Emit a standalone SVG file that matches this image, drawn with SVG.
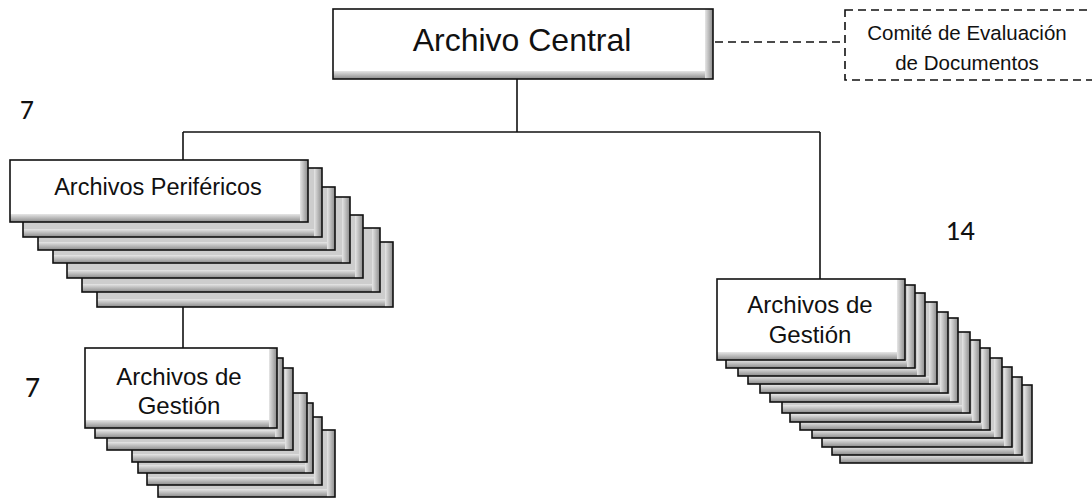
<svg xmlns="http://www.w3.org/2000/svg" width="1092" height="501" viewBox="0 0 1092 501">
<defs>
<linearGradient id="gb" x1="0" y1="0" x2="0" y2="1"><stop offset="0" stop-color="#e6e6e6"/><stop offset="0.45" stop-color="#bdbdbd"/><stop offset="1" stop-color="#8a8a8a"/></linearGradient>
<linearGradient id="gr" x1="0" y1="0" x2="1" y2="0"><stop offset="0" stop-color="#e6e6e6"/><stop offset="0.45" stop-color="#bdbdbd"/><stop offset="1" stop-color="#8a8a8a"/></linearGradient>
<style>
.bg{fill:#fff}
.bk{fill:#cdcdcd}
.bb{fill:url(#gb)}
.br{fill:url(#gr)}
.ed{fill:none;stroke:#111;stroke-width:1.6}
.ln{fill:none;stroke:#111;stroke-width:1.6}
.dash{fill:none;stroke:#111;stroke-width:1.6;stroke-dasharray:8 5}
.t{font-family:"Liberation Sans",Arial,sans-serif;fill:#111;text-anchor:middle}
.n{font-family:Lato,"Open Sans",sans-serif;fill:#111;font-weight:500}
</style>
</defs>
<rect width="1092" height="501" fill="#fff"/>

<g id="connectors">
<line class="ln" x1="517" y1="79" x2="517" y2="132"/>
<line class="ln" x1="183" y1="132" x2="820" y2="132"/>
<line class="ln" x1="183" y1="132" x2="183" y2="160"/>
<line class="ln" x1="820" y1="132" x2="820" y2="279"/>
<line class="ln" x1="183" y1="307" x2="183" y2="348"/>
<line class="dash" x1="715" y1="42" x2="845" y2="42"/>
</g>

<g id="archivo-central">
<rect class="bg" x="333" y="9" width="380" height="70"/>
<rect class="bb" x="333" y="71" width="380" height="8"/>
<rect class="br" x="705" y="9" width="8" height="70"/>
<rect class="ed" x="333" y="9" width="380" height="70"/>
<text class="t" x="522" y="51" font-size="32">Archivo Central</text>
</g>

<g id="comite">
<rect class="dash" x="845" y="10" width="252" height="70"/>
<text class="t" x="967" y="40" font-size="20.5">Comité de Evaluación</text>
<text class="t" x="967" y="70" font-size="20.5">de Documentos</text>
</g>

<g id="archivos-perifericos">
<rect class="bk" x="97" y="242" width="296" height="65"/><rect class="bb" x="97" y="299" width="296" height="8"/><rect class="br" x="385" y="242" width="8" height="65"/><rect class="ed" x="97" y="242" width="296" height="65"/>
<rect class="bk" x="82" y="228" width="298" height="64"/><rect class="bb" x="82" y="284" width="298" height="8"/><rect class="br" x="372" y="228" width="8" height="64"/><rect class="ed" x="82" y="228" width="298" height="64"/>
<rect class="bk" x="67" y="215" width="296" height="63"/><rect class="bb" x="67" y="270" width="296" height="8"/><rect class="br" x="355" y="215" width="8" height="63"/><rect class="ed" x="67" y="215" width="296" height="63"/>
<rect class="bk" x="53" y="197" width="297" height="66"/><rect class="bb" x="53" y="255" width="297" height="8"/><rect class="br" x="342" y="197" width="8" height="66"/><rect class="ed" x="53" y="197" width="297" height="66"/>
<rect class="bk" x="38" y="187" width="297" height="63"/><rect class="bb" x="38" y="242" width="297" height="8"/><rect class="br" x="327" y="187" width="8" height="63"/><rect class="ed" x="38" y="187" width="297" height="63"/>
<rect class="bk" x="23" y="168" width="299" height="69"/><rect class="bb" x="23" y="229" width="299" height="8"/><rect class="br" x="314" y="168" width="8" height="69"/><rect class="ed" x="23" y="168" width="299" height="69"/>
<rect class="bg" x="10" y="160" width="298" height="62"/><rect class="bb" x="10" y="214" width="298" height="8"/><rect class="br" x="300" y="160" width="8" height="62"/><rect class="ed" x="10" y="160" width="298" height="62"/>
<text class="t" x="158" y="195" font-size="23.5">Archivos Periféricos</text>
</g>

<g id="archivos-gestion-izq">
<rect class="bk" x="158" y="430" width="177" height="67"/><rect class="bb" x="158" y="489" width="177" height="8"/><rect class="br" x="327" y="430" width="8" height="67"/><rect class="ed" x="158" y="430" width="177" height="67"/>
<rect class="bk" x="147" y="417" width="175" height="68"/><rect class="bb" x="147" y="477" width="175" height="8"/><rect class="br" x="314" y="417" width="8" height="68"/><rect class="ed" x="147" y="417" width="175" height="68"/>
<rect class="bk" x="138" y="403" width="175" height="70"/><rect class="bb" x="138" y="465" width="175" height="8"/><rect class="br" x="305" y="403" width="8" height="70"/><rect class="ed" x="138" y="403" width="175" height="70"/>
<rect class="bk" x="132" y="393" width="175" height="69"/><rect class="bb" x="132" y="454" width="175" height="8"/><rect class="br" x="299" y="393" width="8" height="69"/><rect class="ed" x="132" y="393" width="175" height="69"/>
<rect class="bk" x="107" y="368" width="186" height="82"/><rect class="bb" x="107" y="442" width="186" height="8"/><rect class="br" x="285" y="368" width="8" height="82"/><rect class="ed" x="107" y="368" width="186" height="82"/>
<rect class="bk" x="95" y="358" width="188" height="80"/><rect class="bb" x="95" y="430" width="188" height="8"/><rect class="br" x="275" y="358" width="8" height="80"/><rect class="ed" x="95" y="358" width="188" height="80"/>
<rect class="bg" x="85" y="348" width="192" height="80"/><rect class="bb" x="85" y="420" width="192" height="8"/><rect class="br" x="269" y="348" width="8" height="80"/><rect class="ed" x="85" y="348" width="192" height="80"/>
<text class="t" x="179" y="385" font-size="24">Archivos de</text>
<text class="t" x="179" y="414" font-size="24">Gestión</text>
</g>

<g id="archivos-gestion-der">
<rect class="bk" x="840" y="385" width="192" height="78"/><rect class="bb" x="840" y="455" width="192" height="8"/><rect class="br" x="1024" y="385" width="8" height="78"/><rect class="ed" x="840" y="385" width="192" height="78"/>
<rect class="bk" x="832" y="377" width="190" height="78"/><rect class="bb" x="832" y="447" width="190" height="8"/><rect class="br" x="1014" y="377" width="8" height="78"/><rect class="ed" x="832" y="377" width="190" height="78"/>
<rect class="bk" x="822" y="367" width="190" height="80"/><rect class="bb" x="822" y="439" width="190" height="8"/><rect class="br" x="1004" y="367" width="8" height="80"/><rect class="ed" x="822" y="367" width="190" height="80"/>
<rect class="bk" x="812" y="358" width="190" height="80"/><rect class="bb" x="812" y="430" width="190" height="8"/><rect class="br" x="994" y="358" width="8" height="80"/><rect class="ed" x="812" y="358" width="190" height="80"/>
<rect class="bk" x="800" y="348" width="190" height="82"/><rect class="bb" x="800" y="422" width="190" height="8"/><rect class="br" x="982" y="348" width="8" height="82"/><rect class="ed" x="800" y="348" width="190" height="82"/>
<rect class="bk" x="790" y="340" width="190" height="82"/><rect class="bb" x="790" y="414" width="190" height="8"/><rect class="br" x="972" y="340" width="8" height="82"/><rect class="ed" x="790" y="340" width="190" height="82"/>
<rect class="bk" x="782" y="332" width="188" height="81"/><rect class="bb" x="782" y="405" width="188" height="8"/><rect class="br" x="962" y="332" width="8" height="81"/><rect class="ed" x="782" y="332" width="188" height="81"/>
<rect class="bk" x="770" y="318" width="188" height="84"/><rect class="bb" x="770" y="394" width="188" height="8"/><rect class="br" x="950" y="318" width="8" height="84"/><rect class="ed" x="770" y="318" width="188" height="84"/>
<rect class="bk" x="760" y="312" width="188" height="81"/><rect class="bb" x="760" y="385" width="188" height="8"/><rect class="br" x="940" y="312" width="8" height="81"/><rect class="ed" x="760" y="312" width="188" height="81"/>
<rect class="bk" x="748" y="302" width="189" height="82"/><rect class="bb" x="748" y="376" width="189" height="8"/><rect class="br" x="929" y="302" width="8" height="82"/><rect class="ed" x="748" y="302" width="189" height="82"/>
<rect class="bk" x="738" y="293" width="187" height="83"/><rect class="bb" x="738" y="368" width="187" height="8"/><rect class="br" x="917" y="293" width="8" height="83"/><rect class="ed" x="738" y="293" width="187" height="83"/>
<rect class="bk" x="726" y="285" width="189" height="83"/><rect class="bb" x="726" y="360" width="189" height="8"/><rect class="br" x="907" y="285" width="8" height="83"/><rect class="ed" x="726" y="285" width="189" height="83"/>
<rect class="bg" x="717" y="279" width="188" height="81"/><rect class="bb" x="717" y="352" width="188" height="8"/><rect class="br" x="897" y="279" width="8" height="81"/><rect class="ed" x="717" y="279" width="188" height="81"/>
<text class="t" x="810" y="313" font-size="24">Archivos de</text>
<text class="t" x="810" y="343" font-size="24">Gestión</text>
</g>

<g id="labels">
<text class="n" x="20" y="119" font-size="24">7</text>
<text class="n" x="25" y="397" font-size="26">7</text>
<text class="n" x="946" y="240" font-size="25">14</text>
</g>
</svg>
